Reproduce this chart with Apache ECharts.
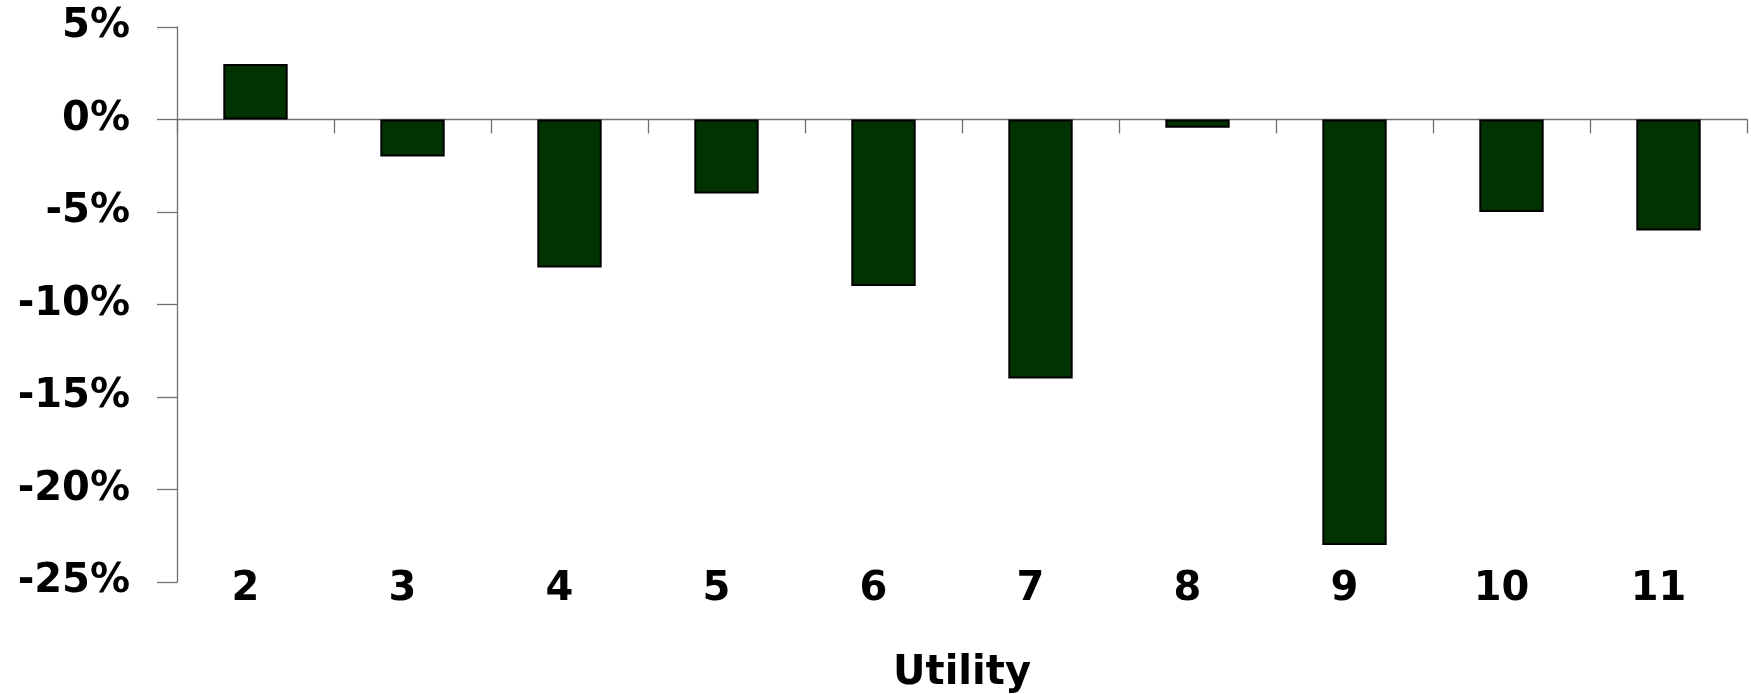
<!DOCTYPE html>
<html>
<head>
<meta charset="utf-8">
<script src="https://cdn.jsdelivr.net/npm/echarts@6/dist/echarts.min.js"></script>
<style>
    html, body { margin: 0; padding: 0; background: #fff; }
    #chart { width: 1751px; height: 694px; }
</style>
</head>
<body>
<div id="chart"></div>
<script>
// utility levels on the x axis
const categories = ['2', '3', '4', '5', '6', '7', '8', '9', '10', '11']
// change in percent
const values = [3, -2, -8, -4, -9, -14, -0.45, -23, -5, -6]
const yTicks = { min: -25, max: 5, step: 5 }

const chart = echarts.init(document.getElementById('chart'))

const labelFont = {
    fontFamily: 'DejaVu Sans',
    fontWeight: 'bold',
    fontSize: 40,
    color: '#000'
}

const option = {
    animation: false,
    grid: {
        left: 177,
        right: 4,
        top: 27,
        bottom: 112,
        outerBoundsMode: 'none'
    },
    xAxis: [
        {
            // labels + title at the bottom
            type: 'category',
            data: categories,
            position: 'bottom',
            axisLine: { show: false, onZero: false },
            axisTick: { show: false },
            axisLabel: Object.assign({ margin: -12, padding: [0, 20, 0, 0] }, labelFont),
            name: 'Utility',
            nameLocation: 'middle',
            nameGap: 72,
            nameTextStyle: labelFont
        },
        {
            // the zero line with its ticks
            type: 'category',
            data: categories,
            position: 'top',
            axisLine: { show: true, onZero: true, lineStyle: { color: '#707070', width: 1.3 } },
            axisTick: { show: true, inside: true, length: 14, lineStyle: { color: '#707070', width: 1.3 } },
            axisLabel: { show: false }
        }
    ],
    yAxis: {
        type: 'value',
        min: yTicks.min,
        max: yTicks.max,
        interval: yTicks.step,
        axisLine: { show: true, lineStyle: { color: '#707070', width: 1.3 } },
        axisTick: { show: true, length: 20, lineStyle: { color: '#707070', width: 1.3 } },
        splitLine: { show: false },
        axisLabel: Object.assign({ margin: 47, formatter: '{value}%' }, labelFont)
    },
    series: [
        {
            type: 'bar',
            xAxisIndex: 0,
            data: values,
            barWidth: '41%',
            itemStyle: {
                color: '#003300',
                borderColor: '#000',
                borderWidth: 2
            }
        }
    ]
}

chart.setOption(option)
</script>
</body>
</html>
